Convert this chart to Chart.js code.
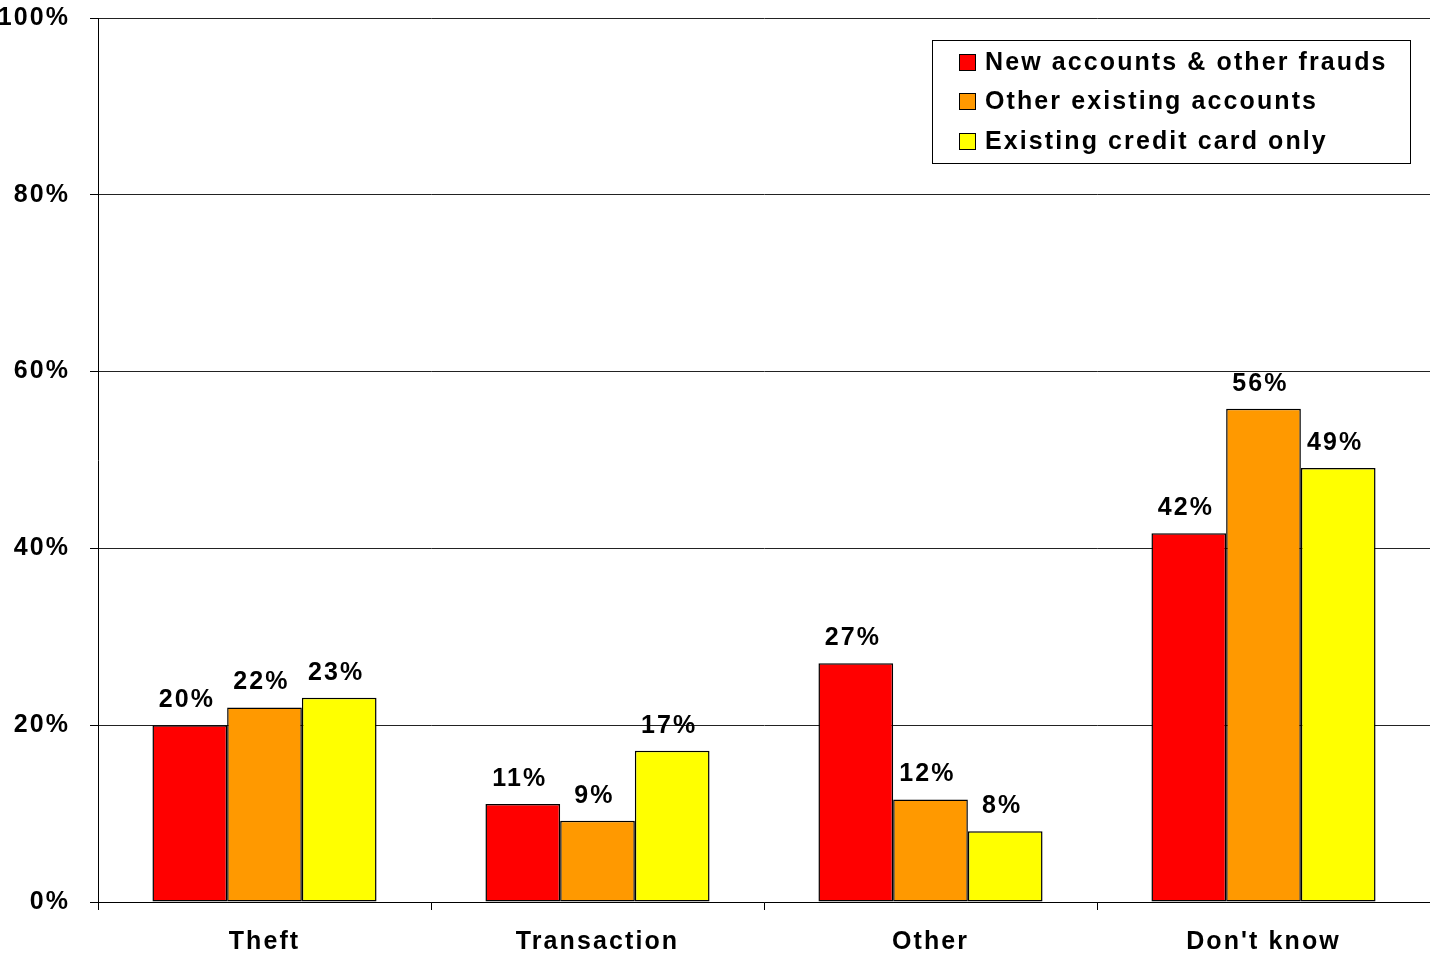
<!DOCTYPE html>
<html>
<head>
<meta charset="utf-8">
<script src="https://cdn.jsdelivr.net/npm/chart.js@4"></script>
<style>
  html, body { margin: 0; padding: 0; background: #fff; }
  canvas { display: block; }
</style>
</head>
<body>
<canvas id="fraudChart" width="1430" height="955"></canvas>
<script>
var categories = ["Theft", "Transaction", "Other", "Don't know"];
var seriesNames = ["New accounts & other frauds", "Other existing accounts", "Existing credit card only"];
var newAccounts = [20, 11.1, 27, 41.7];
var otherExisting = [22, 9.2, 11.6, 55.8];
var creditCardOnly = [23.1, 17.1, 8, 49.1];
var yTicks = [0, 20, 40, 60, 80, 100];

var barColors = ['#FF0000', '#FF9900', '#FFFF00'];
var FONT = "'Liberation Sans', Arial, sans-serif";
var SIZE = 25;
var SPACING = 2.1;

// canvas letter spacing is not a chart.js option, so set it on the context
var spacingPlugin = {
	id: 'spacing',
	beforeLayout: function(chart) { chart.ctx.letterSpacing = SPACING + 'px'; },
	beforeDraw: function(chart) { chart.ctx.letterSpacing = SPACING + 'px'; }
};

var valueLabels = {
	id: 'valueLabels',
	afterDatasetsDraw: function(chart) {
		var ctx = chart.ctx;
		ctx.save();
		ctx.letterSpacing = SPACING + 'px';
		ctx.font = 'bold ' + SIZE + 'px ' + FONT;
		ctx.fillStyle = '#000';
		ctx.textAlign = 'center';
		ctx.textBaseline = 'middle';
		chart.data.datasets.forEach(function(ds, i) {
			chart.getDatasetMeta(i).data.forEach(function(bar, j) {
				ctx.fillText(Math.round(ds.data[j]) + '%', bar.x - 3, bar.y - 25);
			});
		});
		ctx.restore();
	}
};

var boxLegend = {
	id: 'boxLegend',
	afterDraw: function(chart) {
		var ctx = chart.ctx;
		ctx.save();
		ctx.fillStyle = '#fff';
		ctx.fillRect(932, 40, 478, 123);
		ctx.strokeStyle = '#000';
		ctx.lineWidth = 1;
		ctx.strokeRect(932.5, 40.5, 478, 123);
		ctx.letterSpacing = SPACING + 'px';
		ctx.font = 'bold ' + SIZE + 'px ' + FONT;
		ctx.textAlign = 'left';
		ctx.textBaseline = 'middle';
		var rows = [62, 101, 141];
		chart.data.datasets.forEach(function(ds, i) {
			var y = rows[i];
			ctx.fillStyle = ds.backgroundColor;
			ctx.fillRect(959, y - 8, 17, 17);
			ctx.strokeStyle = '#000';
			ctx.strokeRect(959.5, y - 7.5, 16, 16);
			ctx.fillStyle = '#000';
			ctx.fillText(ds.label, 985, y + 1);
		});
		ctx.restore();
	}
};

var datasets = [newAccounts, otherExisting, creditCardOnly].map(function(values, i) {
	return {
		label: seriesNames[i],
		data: values,
		backgroundColor: barColors[i],
		borderColor: '#000',
		borderWidth: 1.5,
		borderSkipped: false,
		categoryPercentage: 0.673,
		barPercentage: 1.0
	};
});

var ctx = document.getElementById('fraudChart').getContext('2d');
var chart = new Chart(ctx, {
	type: 'bar',
	data: { labels: categories, datasets: datasets },
	plugins: [spacingPlugin, valueLabels, boxLegend],
	options: {
		responsive: false,
		animation: false,
		layout: { padding: { top: 18, right: 0, left: 0, bottom: 0 } },
		plugins: {
			legend: { display: false },
			tooltip: { enabled: false }
		},
		scales: {
			x: {
				grid: {
					display: true,
					drawOnChartArea: false,
					offset: true,
					color: '#000',
					tickLength: 8
				},
				border: { color: '#000', width: 1 },
				ticks: {
					color: '#000',
					padding: 17,
					font: { family: FONT, size: SIZE, weight: 'bold' }
				},
				afterFit: function(scale) { scale.height = 53; }
			},
			y: {
				min: 0,
				max: 100,
				afterBuildTicks: function(scale) {
					scale.ticks = yTicks.map(function(v) { return { value: v }; });
				},
				grid: {
					color: '#222',
					lineWidth: 1,
					tickColor: '#000',
					tickLength: 8
				},
				border: { color: '#000', width: 1 },
				ticks: {
					color: '#000',
					padding: 20,
					font: { family: FONT, size: SIZE, weight: 'bold' },
					callback: function(v) { return v + '%'; }
				},
				afterFit: function(scale) {
					scale.width = 98;
					// let the top label hang over the edge like the original
					scale.paddingTop = 0;
					scale.paddingBottom = 0;
				}
			}
		}
	}
});
</script>
</body>
</html>
